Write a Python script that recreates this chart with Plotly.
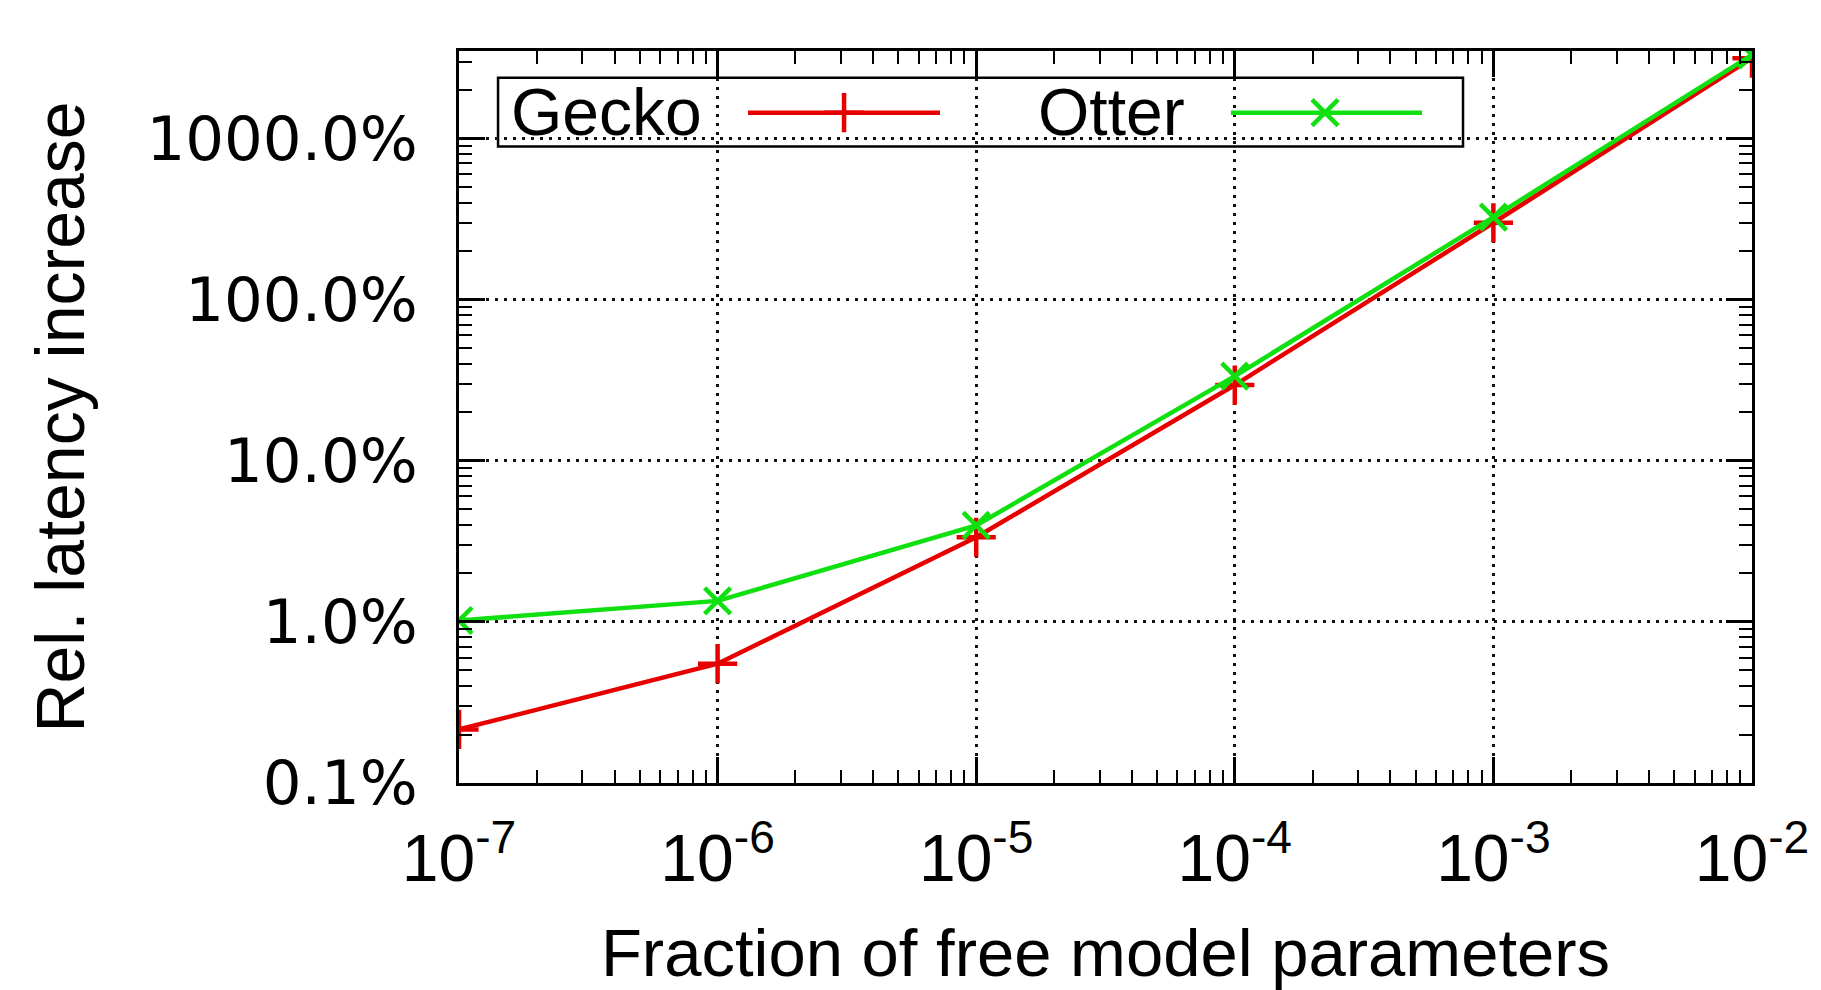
import numpy as np
import plotly.graph_objects as go

# ---- data ----
fraction = [1e-7, 1e-6, 1e-5, 1e-4, 1e-3, 1e-2]
gecko = [0.215, 0.55, 3.35, 29.5, 300, 3150]
otter = [1.02, 1.35, 3.97, 33.5, 325, 3300]

x_tickvals = [1e-7, 1e-6, 1e-5, 1e-4, 1e-3, 1e-2]
x_ticktext = ["10<sup>-7</sup>", "10<sup>-6</sup>", "10<sup>-5</sup>",
              "10<sup>-4</sup>", "10<sup>-3</sup>", "10<sup>-2</sup>"]
y_tickvals = [0.1, 1, 10, 100, 1000]
y_ticktext = ["0.1%", "1.0%", "10.0%", "100.0%", "1000.0%"]

RED = "#e80000"
GREEN = "#10e010"

x_minor = [k * 10.0 ** e for e in range(-7, -2) for k in range(2, 10)]
y_minor = [k * 10.0 ** e for e in range(-1, 4) for k in range(2, 10)]

fig = go.Figure()
fig.add_trace(go.Scatter(
    x=fraction, y=gecko, mode="lines+markers", name="Gecko",
    line=dict(color=RED, width=4.5),
    marker=dict(symbol="cross-thin", size=28, line=dict(color=RED, width=4.5), color=RED),
    showlegend=False,
))
fig.add_trace(go.Scatter(
    x=fraction, y=otter, mode="lines+markers", name="Otter",
    line=dict(color=GREEN, width=4.5),
    marker=dict(symbol="x-thin", size=26, line=dict(color=GREEN, width=4.5), color=GREEN),
    showlegend=False,
))

# ---- custom gnuplot-style key (text left of sample) on an overlay axis ----
key_names = ["Gecko", "Otter"]
key_colors = [RED, GREEN]
key_symbols = ["cross-thin", "x-thin"]
key_sizes = [28, 26]
key_text_x = [0.0387, 0.4462]
key_line_x = [(0.2235, 0.2978, 0.372), (0.597, 0.6698, 0.7448)]
key_y = 0.9158
for name, col, sym, sz, lx in zip(key_names, key_colors, key_symbols, key_sizes, key_line_x):
    fig.add_trace(go.Scatter(
        x=[lx[0], lx[2]], y=[key_y, key_y], mode="lines",
        line=dict(color=col, width=4.5), xaxis="x2", yaxis="y2",
        showlegend=False, hoverinfo="skip"))
    fig.add_trace(go.Scatter(
        x=[lx[1]], y=[key_y], mode="markers",
        marker=dict(symbol=sym, size=sz, line=dict(color=col, width=4.5), color=col),
        xaxis="x2", yaxis="y2", showlegend=False, hoverinfo="skip"))

annotations = []
for name, tx in zip(key_names, key_text_x):
    annotations.append(dict(
        text=name, x=tx, y=0.917, xref="paper", yref="paper",
        xanchor="left", yanchor="middle", showarrow=False,
        font=dict(family="Liberation Sans", size=66, color="black")))

shapes = [dict(type="rect", xref="paper", yref="paper",
               x0=0.0302, x1=0.7765, y0=0.8696, y1=0.9633,
               line=dict(color="black", width=2.5), fillcolor="white", layer="below")]

axis_common = dict(
    showline=True, linecolor="black", linewidth=3, mirror="allticks",
    ticks="inside", ticklen=26, tickwidth=2.5, tickcolor="black",
    showgrid=True, gridcolor="#111111", gridwidth=2.5, griddash="3px,6px",
    zeroline=False,
)

fig.update_layout(
    width=1821, height=990,
    margin=dict(l=459, r=69, t=51, b=203),
    paper_bgcolor="white", plot_bgcolor="white",
    xaxis=dict(
        type="log", range=[-7, -2],
        tickmode="array", tickvals=x_tickvals, ticktext=x_ticktext,
        tickfont=dict(family="Liberation Sans", size=66, color="black"),
        ticklabelstandoff=16,
        minor=dict(tickmode="array", tickvals=x_minor, ticks="inside",
                   ticklen=13, tickwidth=2, tickcolor="black", showgrid=False),
        title=dict(text="Fraction of free model parameters",
                   font=dict(family="Liberation Sans", size=67, color="black"),
                   standoff=36),
        **axis_common,
    ),
    yaxis=dict(
        type="log", range=[-1, 3.543],
        tickmode="array", tickvals=y_tickvals, ticktext=y_ticktext,
        tickfont=dict(family="DejaVu Sans", size=61, color="black"),
        ticklabelstandoff=26,
        minor=dict(tickmode="array", tickvals=y_minor, ticks="inside",
                   ticklen=13, tickwidth=2, tickcolor="black", showgrid=False),
        title=dict(text="Rel. latency increase",
                   font=dict(family="Liberation Sans", size=68, color="black"),
                   standoff=40),
        **axis_common,
    ),
    xaxis2=dict(overlaying="x", range=[0, 1], visible=False, fixedrange=True),
    yaxis2=dict(overlaying="y", range=[0, 1], visible=False, fixedrange=True),
    shapes=shapes,
    annotations=annotations,
    showlegend=False,
)

fig.write_html("out.html")
